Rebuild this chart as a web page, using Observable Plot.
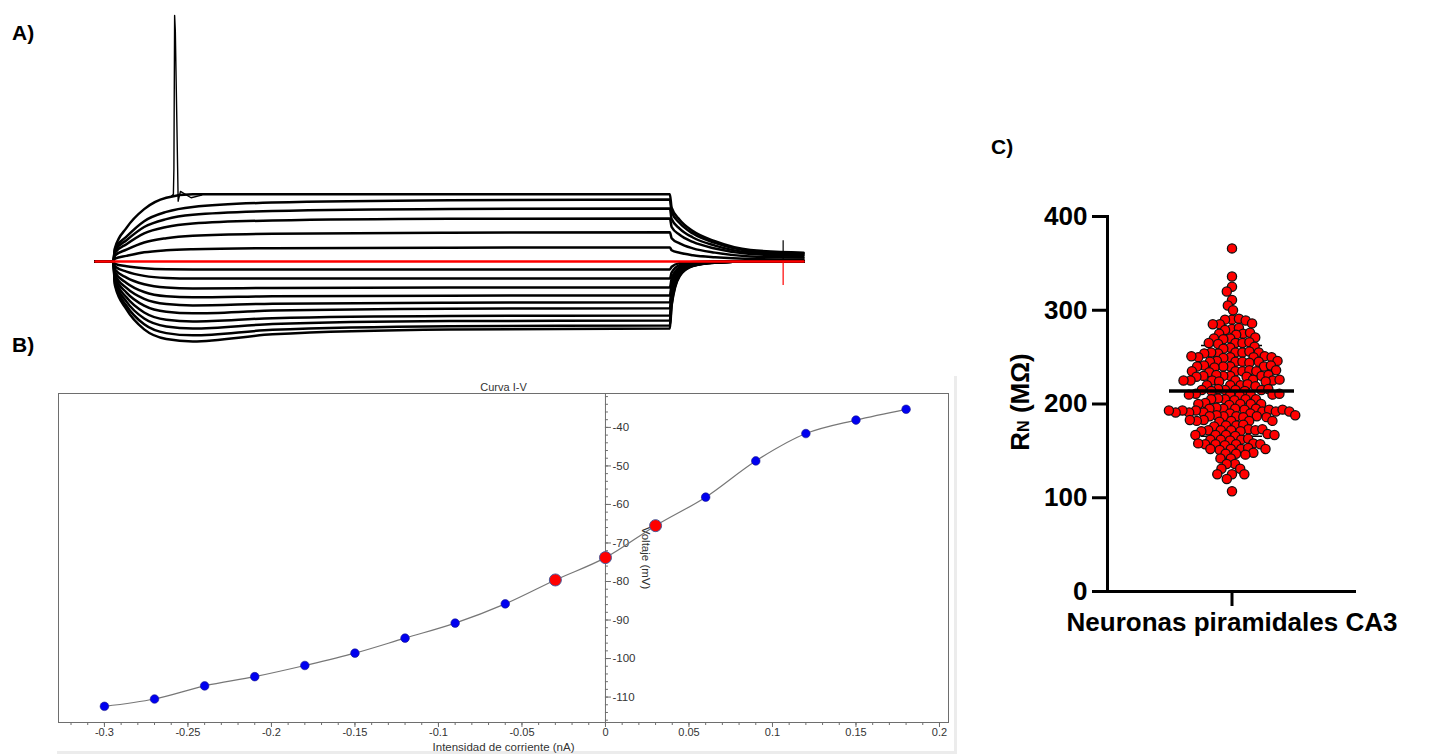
<!DOCTYPE html>
<html><head><meta charset="utf-8">
<script src="https://cdn.jsdelivr.net/npm/d3@7"></script>
<script src="https://cdn.jsdelivr.net/npm/@observablehq/plot@0.6"></script>
<style>
html,body{margin:0;padding:0;background:#fff;}
#page{position:relative;width:1431px;height:756px;overflow:hidden;background:#fff;font-family:"Liberation Sans",Arial,sans-serif;}
.panel{position:absolute;}
.tag{position:absolute;font:bold 21px "Liberation Sans",Arial,sans-serif;color:#000;line-height:1;}
#ylabC{position:absolute;left:1020px;top:402px;transform:translate(-50%,-50%) rotate(-90deg);font:bold 26px "Liberation Sans",Arial,sans-serif;white-space:nowrap;color:#000;}
#ylabC span{font-size:62%;}
#frameB{position:absolute;left:57px;top:376px;width:897px;height:375px;border-right:3px solid #ececec;border-bottom:3px solid #ececec;}
</style></head><body><div id="page">
<div id="frameB"></div>
<div class="tag" style="left:12px;top:22px">A)</div>
<div class="tag" style="left:12px;top:334px">B)</div>
<div class="tag" style="left:991px;top:136px">C)</div>
<div id="panelA" class="panel" style="left:95px;top:0px"></div>
<div id="panelB" class="panel" style="left:38px;top:363px"></div>
<div id="panelC" class="panel" style="left:997px;top:206px"></div>
<div id="ylabC">R<span>N</span> (MΩ)</div>
</div>
<script>
// ---------- Panel A: voltage traces (mV) at sampled times (ms) ----------
const traceTimes = [0, 20, 22, 35, 55, 80, 110, 200, 400, 649, 651, 660, 675, 700, 740, 800];
const traceCurrents = [-0.3, -0.27, -0.24, -0.21, -0.18, -0.15, -0.12, -0.09, -0.06, -0.03, 0, 0.03, 0.06, 0.09, 0.12, 0.15, 0.18];
const traceVoltages = [
  [-74,-74,-88,-101.9,-113.5,-119.1,-120.5,-116.4,-113.6,-113,-99.7,-82.6,-76.7,-74.8,-74,-74],
  [-74,-74,-86.9,-99.8,-110.6,-115.7,-117,-113.8,-111.7,-111.2,-98.6,-82.2,-76.6,-74.7,-74,-74],
  [-74,-74,-85.7,-97.4,-107.2,-111.8,-113,-110.4,-108.7,-108.3,-96.6,-81.5,-76.4,-74.7,-74,-74],
  [-74,-74,-84.5,-94.9,-103.7,-107.9,-108.9,-107,-105.7,-105.4,-94.7,-80.9,-76.2,-74.6,-74,-74],
  [-74,-74,-83.1,-92.1,-99.7,-103.3,-104.2,-102.6,-101.5,-101.3,-92,-80,-75.9,-74.5,-74,-74],
  [-74,-74,-81.7,-89.4,-95.8,-98.8,-99.6,-98.6,-98,-97.8,-89.7,-79.2,-75.7,-74.5,-74,-74],
  [-74,-74,-80.3,-86.5,-91.8,-94.3,-94.9,-94.3,-93.9,-93.8,-87.1,-78.4,-75.4,-74.4,-74,-74],
  [-74,-74,-78.7,-83.4,-87.3,-89.2,-89.7,-89.4,-89.1,-89.1,-84,-77.3,-75.1,-74.3,-74,-74],
  [-74,-74,-77,-79.9,-82.4,-83.6,-83.9,-83.9,-83.9,-83.9,-80.5,-76.2,-74.7,-74.2,-74,-74],
  [-74,-74,-75.4,-76.8,-78,-78.6,-78.7,-78.7,-78.7,-78.7,-77.1,-75,-74.3,-74.1,-74,-74],
  [-74,-74,-74,-74,-74,-74,-74,-74,-74,-74,-74,-74,-74,-74,-74,-74],
  [-74,-74,-72.4,-70.8,-68.7,-67.5,-66.9,-66.3,-66,-65.9,-67.5,-69,-70.4,-71.6,-72.6,-72.9],
  [-74,-74,-70.6,-67.2,-63,-60.5,-59.1,-57.9,-57.3,-57.1,-60.5,-63.5,-66.4,-68.9,-71.1,-71.8],
  [-74,-74,-69,-64,-57.7,-54,-52,-50.2,-49.2,-49,-54,-58.5,-62.7,-66.5,-69.7,-70.7],
  [-74,-74,-67.8,-61.7,-54,-49.4,-46.9,-44.7,-43.5,-43.2,-49.4,-54.9,-60.1,-64.8,-68.8,-70],
  [-74,-74,-66.8,-59.6,-50.6,-45.2,-42.3,-39.8,-38.4,-38,-45.2,-51.7,-57.8,-63.2,-67.9,-69.3],
  [-74,-74,-66.2,-54.5,-43.6,-37,-35,-35,-35,-35,-42.8,-49.8,-56.4,-62.3,-67.4,-68.9]
];
const spikeTimes = [86, 88, 88.6, 89.4, 90.2, 92.8, 93.4, 96, 108, 120];
const spikeVoltages = [-36, -35, -20, 69, 60, -20, -39, -33.3, -37, -35.5];
const artifactTime = 777;
const artifactTop = -62, artifactRest = -74, artifactBottom = -88;

// ---------- Panel B: I-V curve ----------
const ivCurrent = [-0.3,-0.27,-0.24,-0.21,-0.18,-0.15,-0.12,-0.09,-0.06,-0.03,0,0.03,0.06,0.09,0.12,0.15,0.18];
const ivVoltage = [-112.4,-110.5,-107.1,-104.7,-101.8,-98.6,-94.7,-90.8,-85.8,-79.6,-73.8,-65.5,-58.1,-48.7,-41.6,-38.1,-35.3];
const ivHighlighted = [-0.03, 0, 0.03];
const ivXTicks = [-0.3,-0.25,-0.2,-0.15,-0.1,-0.05,0,0.05,0.1,0.15,0.2];
const ivYTicks = [-40,-50,-60,-70,-80,-90,-100,-110];

// ---------- Panel C: input resistance (MΩ) ----------
const groupName = "Neuronas piramidales CA3";
const rnValues = [
  366,336,325,320,311,305,300,
  290,290,291,289, 285,285,286, 280,281,279, 275,275,276,274, 270,270,271,269,
  265,265,264,266,265, 260,261,259,
  255,255,254,256,255,255,254, 250,250,251,249,250,250,251,
  245,245,246,244,245,245,246, 240,240,241,239,240,240,241,
  235,235,236,234,235,235,236, 230,230,231,229,230,230,231,229,
  225,225,226,224,225,225,226,224,225, 220,220,221,219,220,
  215,215,216,214,215,215,216,214, 210,210,211,209,210,210,211,
  205,205,206,204,205,205, 200,200,201,199,200,200, 195,195,196,194,195,195,
  190,191,192,193,194,190,191,192,193,194,191,192,193,
  187,187,188,186,187,187,188,186, 182,182,183,181,182,182,183,
  177,177,178,176, 172,172,173,171,172,172,173,171,
  167,167,168,166,167,167, 162,162,163,161,162,
  157,157,158,156,157,157,158, 152,152,153,151,152,152,
  147,147,148,146, 142,142, 136,136, 131,131, 125,125,125, 120, 107
];
const rnMean = 214, rnSD = 48.5;
const rnTicks = [0, 100, 200, 300, 400];

const FONT = '"Liberation Sans", Arial, sans-serif';

// ---- Panel A ----
const traces = [];
traceVoltages.forEach((vs, k) => vs.forEach((v, j) => traces.push({current: traceCurrents[k], t: traceTimes[j], v})));
const blackTraces = traces.filter(d => d.current !== 0);
const redTrace = traces.filter(d => d.current === 0);
const spike = spikeTimes.map((t, i) => ({t, v: spikeVoltages[i]}));
const plotA = Plot.plot({
  width: 708, height: 350, margin: 0,
  x: {domain: [0, 800], axis: null},
  y: {domain: [-125.8, 77.7], axis: null},
  style: {overflow: "visible", background: "transparent"},
  marks: [
    Plot.line(blackTraces, {x: "t", y: "v", z: "current", stroke: "black", strokeWidth: 2.5, curve: "monotone-x"}),
    Plot.line(spike, {x: "t", y: "v", stroke: "black", strokeWidth: 1.4}),
    Plot.ruleX([{t: artifactTime, v1: artifactTop, v2: artifactRest}], {x: "t", y1: "v1", y2: "v2", stroke: "black", strokeWidth: 1.2}),
    Plot.line(redTrace, {x: "t", y: "v", stroke: "#ff0000", strokeWidth: 2.5, curve: "monotone-x"}),
    Plot.ruleX([{t: artifactTime, v1: artifactRest, v2: artifactBottom}], {x: "t", y1: "v1", y2: "v2", stroke: "#ff0000", strokeWidth: 1.2})
  ]
});
document.getElementById("panelA").append(plotA);

// ---- Panel B ----
const iv = ivCurrent.map((c, i) => ({current: c, voltage: ivVoltage[i], highlighted: ivHighlighted.includes(c)}));
const xMinorB = d3.range(-32, 21).map(i => i / 100);
const yMinorB = d3.range(-116, -31, 2);
const fmtB = d => String(+(+d).toFixed(2));
const gray = "#6e6e6e";
const plotB = Plot.plot({
  width: 930, height: 393, marginLeft: 20, marginRight: 20, marginTop: 30, marginBottom: 34,
  x: {domain: [-0.3275, 0.2054]},
  y: {domain: [-116.6, -31.2], axis: null},
  style: {fontFamily: FONT, fontSize: "11px", color: "#333", overflow: "visible", background: "transparent"},
  marks: [
    Plot.frame({stroke: gray}),
    Plot.ruleX([0], {stroke: gray}),
    Plot.ruleY(yMinorB, {y: d => d, x1: 0, x2: 0, insetRight: -3, stroke: gray}),
    Plot.ruleY(ivYTicks, {y: d => d, x1: 0, x2: 0, insetRight: -6, stroke: gray}),
    Plot.text(ivYTicks, {x: 0, y: d => d, text: d => String(d), dx: 7, textAnchor: "start", fontSize: 11.5, fill: "#333"}),
    Plot.axisX(xMinorB, {tickSize: 3, tickFormat: () => "", label: null, stroke: gray}),
    Plot.axisX(ivXTicks, {tickSize: 5, tickPadding: 1, tickFormat: fmtB, label: null, fontSize: 11, stroke: gray}),
    Plot.text(["Curva I-V"], {text: d => d, frameAnchor: "top", dy: -10, fontSize: 11, fill: "#333"}),
    Plot.text(["Intensidad de corriente (nA)"], {text: d => d, frameAnchor: "bottom", dy: 28, fontSize: 11.5, fill: "#333"}),
    Plot.text(["Voltaje (mV)"], {text: d => d, x: 0, frameAnchor: "middle", dx: 40, rotate: 90, fontSize: 11.5, fill: "#333"}),
    Plot.line(iv, {x: "current", y: "voltage", stroke: "#777", strokeWidth: 1.2, curve: "catmull-rom"}),
    Plot.dot(iv.filter(d => !d.highlighted), {x: "current", y: "voltage", r: 4.3, fill: "#0000f0", stroke: "#1a1a8a", strokeWidth: 0.6}),
    Plot.dot(iv.filter(d => d.highlighted), {x: "current", y: "voltage", r: 6, fill: "#ff0000", stroke: "#4a5a9a", strokeWidth: 1})
  ]
});
document.getElementById("panelB").append(plotB);

// ---- Panel C ----
const summary = [{group: groupName, mean: rnMean, sd: rnSD}];
const widthC = 419, mLC = 110, mRC = 60;
const bandHalf = (widthC - mLC - mRC) / 2; // dodge x is already centred; undo band centring offset
const plotC = Plot.plot({
  width: widthC, height: 445, marginLeft: mLC, marginRight: mRC, marginTop: 10, marginBottom: 60,
  x: {type: "band", domain: [groupName], padding: 0},
  y: {domain: [0, 400]},
  style: {fontFamily: FONT, fontWeight: "bold", color: "black", overflow: "visible", background: "transparent"},
  marks: [
    Plot.frame({anchor: "left", strokeWidth: 3}),
    Plot.ruleY([0], {strokeWidth: 3}),
    Plot.axisY(rnTicks, {tickSize: 15, tickPadding: 5, fontSize: 26, fontWeight: "bold", strokeWidth: 3, label: null, tickFormat: d => String(d)}),
    Plot.axisX({tickSize: 15, tickPadding: 6, fontSize: 26, fontWeight: "bold", strokeWidth: 3, label: null}),
    Plot.ruleX(summary, {x: "group", y1: d => d.mean - d.sd, y2: d => d.mean + d.sd, strokeWidth: 1.5}),
    Plot.tickY(summary, {x: "group", y: d => d.mean + d.sd, strokeWidth: 1.5, insetLeft: 94, insetRight: 94}),
    Plot.tickY(summary, {x: "group", y: d => d.mean - d.sd, strokeWidth: 1.5, insetLeft: 94, insetRight: 94}),
    Plot.dot(rnValues, Plot.dodgeX({anchor: "middle", padding: -2.2}, {y: d => d, r: 4.6, dx: -bandHalf, fill: "#ff0000", stroke: "#111", strokeWidth: 1.3})),
    Plot.tickY(summary, {x: "group", y: "mean", strokeWidth: 3.5, insetLeft: 62, insetRight: 62})
  ]
});
document.getElementById("panelC").append(plotC);
</script></body></html>
